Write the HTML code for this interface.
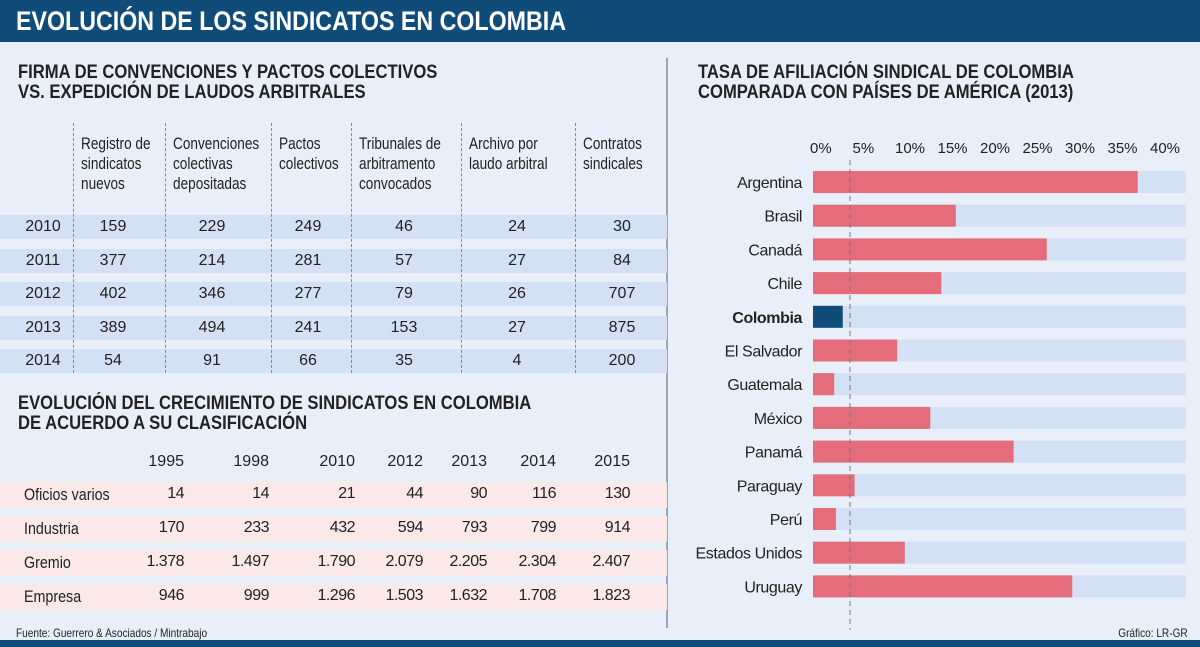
<!DOCTYPE html>
<html><head><meta charset="utf-8"><style>
*{margin:0;padding:0;box-sizing:border-box}
body{width:1200px;height:647px;background:#e9eff9;position:relative;overflow:hidden;font-family:"Liberation Sans Narrow","Liberation Sans",sans-serif;color:#222}
.a{position:absolute;white-space:nowrap}
.h{font-weight:bold;font-size:19px;line-height:20px;color:#222;transform:scaleX(.875);transform-origin:left top}
.n{transform:scaleX(.84);transform-origin:left top}
</style></head><body>
<div class="a" style="left:0;top:0;width:1200px;height:42px;background:#0f4c7a"></div>
<div class="a" style="left:16px;top:6px;font-size:27px;font-weight:bold;color:#fff;transform:scaleX(.86);transform-origin:left top">EVOLUCIÓN DE LOS SINDICATOS EN COLOMBIA</div>
<div class="a" style="left:666px;top:58px;width:2px;height:570px;background:#9aa6b8"></div>
<div class="a" style="left:0;top:640px;width:1200px;height:7px;background:#0f4c7a"></div>

<div class="a h" style="left:18px;top:63px">FIRMA DE CONVENCIONES Y PACTOS COLECTIVOS<br>VS. EXPEDICIÓN DE LAUDOS ARBITRALES</div>
<div id="t1"></div>

<div class="a h" style="left:18px;top:394px">EVOLUCIÓN DEL CRECIMIENTO DE SINDICATOS EN COLOMBIA<br>DE ACUERDO A SU CLASIFICACIÓN</div>
<div id="t2"></div>

<div class="a h" style="left:698px;top:63px">TASA DE AFILIACIÓN SINDICAL DE COLOMBIA<br>COMPARADA CON PAÍSES DE AMÉRICA (2013)</div>
<svg class="a" style="left:0;top:0" width="1200" height="647" id="chart"></svg>

<div class="a n" style="left:16px;top:626px;font-size:12px">Fuente: Guerrero &amp; Asociados / Mintrabajo</div>
<div class="a" style="right:12px;top:626px;font-size:12px;transform:scaleX(.84);transform-origin:right top">Gráfico: LR-GR</div>

<script>
const t1Headers=["Registro de<br>sindicatos<br>nuevos","Convenciones<br>colectivas<br>depositadas","Pactos<br>colectivos","Tribunales de<br>arbitramento<br>convocados","Archivo por<br>laudo arbitral","Contratos<br>sindicales"];
const t1Years=["2010","2011","2012","2013","2014"];
const t1Values=[[159,229,249,46,24,30],[377,214,281,57,27,84],[402,346,277,79,26,707],[389,494,241,153,27,875],[54,91,66,35,4,200]];
const t2Years=["1995","1998","2010","2012","2013","2014","2015"];
const t2Rows=["Oficios varios","Industria","Gremio","Empresa"];
const t2Values=[["14","14","21","44","90","116","130"],["170","233","432","594","793","799","914"],["1.378","1.497","1.790","2.079","2.205","2.304","2.407"],["946","999","1.296","1.503","1.632","1.708","1.823"]];
const countries=["Argentina","Brasil","Canadá","Chile","Colombia","El Salvador","Guatemala","México","Panamá","Paraguay","Perú","Estados Unidos","Uruguay"];
const rates=[38.2,16.8,27.5,15.1,3.5,9.9,2.5,13.8,23.6,4.9,2.7,10.8,30.5];
const ticks=[0,5,10,15,20,25,30,35,40];

function div(parent,style,html,name,cls){const d=document.createElement('div');d.className='a'+(cls?' '+cls:'');d.style.cssText=style;d.innerHTML=html;


parent.appendChild(d);return d;}
const t1=document.getElementById('t1');
const divX=[73,165,271,351,461,575];
const colC=[113,212,308,404,517,622];
t1Years.forEach((y,i)=>{const top=215+i*33.5;
div(t1,`left:0;top:${top}px;width:667px;height:24px;background:#d4e0f3`,'','table1-row-band');
div(t1,`left:20px;top:${top+3}px;width:46px;text-align:center;font-size:16px`,y,'table1-year');
t1Values[i].forEach((v,j)=>div(t1,`left:${colC[j]-40}px;top:${top+3}px;width:80px;text-align:center;font-size:16px`,v,'table1-cell'));});
divX.forEach((x,j)=>{div(t1,`left:${x}px;top:123px;height:250px;border-left:1px dashed #888`,'','table1-column-divider');
div(t1,`left:${x+8}px;top:134px;font-size:17px;line-height:20px;transform:scaleX(.8)`,t1Headers[j],'table1-header','n');});
const t2=document.getElementById('t2');
const rEdge=[184,269,355,423,487,556,630];
t2Years.forEach((y,j)=>div(t2,`left:${rEdge[j]-60}px;top:453px;width:60px;text-align:right;font-size:16px`,y,'table2-year-header'));
t2Rows.forEach((r,i)=>{const top=482+i*34;
div(t2,`left:0;top:${top}px;width:667px;height:26px;background:#fbe9ea`,'','table2-row-band');
div(t2,`left:24px;top:${top+3}px;font-size:17px`,r,'table2-row-label','n');
t2Values[i].forEach((v,j)=>div(t2,`left:${rEdge[j]-70}px;top:${top+3}px;width:70px;text-align:right;font-size:16px;letter-spacing:-0.5px`,v,'table2-cell'));});

const svg=document.getElementById('chart');const NS='http://www.w3.org/2000/svg';
const x0=813,ppu=8.5;const xs=v=>x0+v*ppu;const yc=i=>182+i*33.7;
function el(tag,attrs,name){const e=document.createElementNS(NS,tag);for(const k in attrs)e.setAttribute(k,attrs[k]);


svg.appendChild(e);return e;}
ticks.forEach(t=>{const e=el('text',{x:xs(t)-3,y:153,'font-size':15,fill:'#222','font-family':'Liberation Sans, sans-serif'},'x-tick-label');e.textContent=t+'%';});
countries.forEach((c,i)=>{const y=yc(i);
el('rect',{x:x0,y:y-11,width:1186-x0,height:22,fill:'#d4e0f3'},'bar-track');
el('rect',{x:x0,y:y-11,width:xs(rates[i])-x0,height:22,fill:c==='Colombia'?'#0f4c7a':'#e46c7b'},'bar-'+c.toLowerCase().replace(/\s/g,'-'));
const t=el('text',{x:802,y:y+6,'text-anchor':'end','font-size':16,fill:'#222','font-weight':c==='Colombia'?'bold':'normal','font-family':'Liberation Sans, sans-serif','letter-spacing':'-0.4'},'country-label');t.textContent=c;});
el('line',{x1:850,x2:850,y1:160,y2:630,stroke:'#777','stroke-dasharray':'5,4','stroke-width':1},'reference-dashed-line');
</script>
</body></html>
